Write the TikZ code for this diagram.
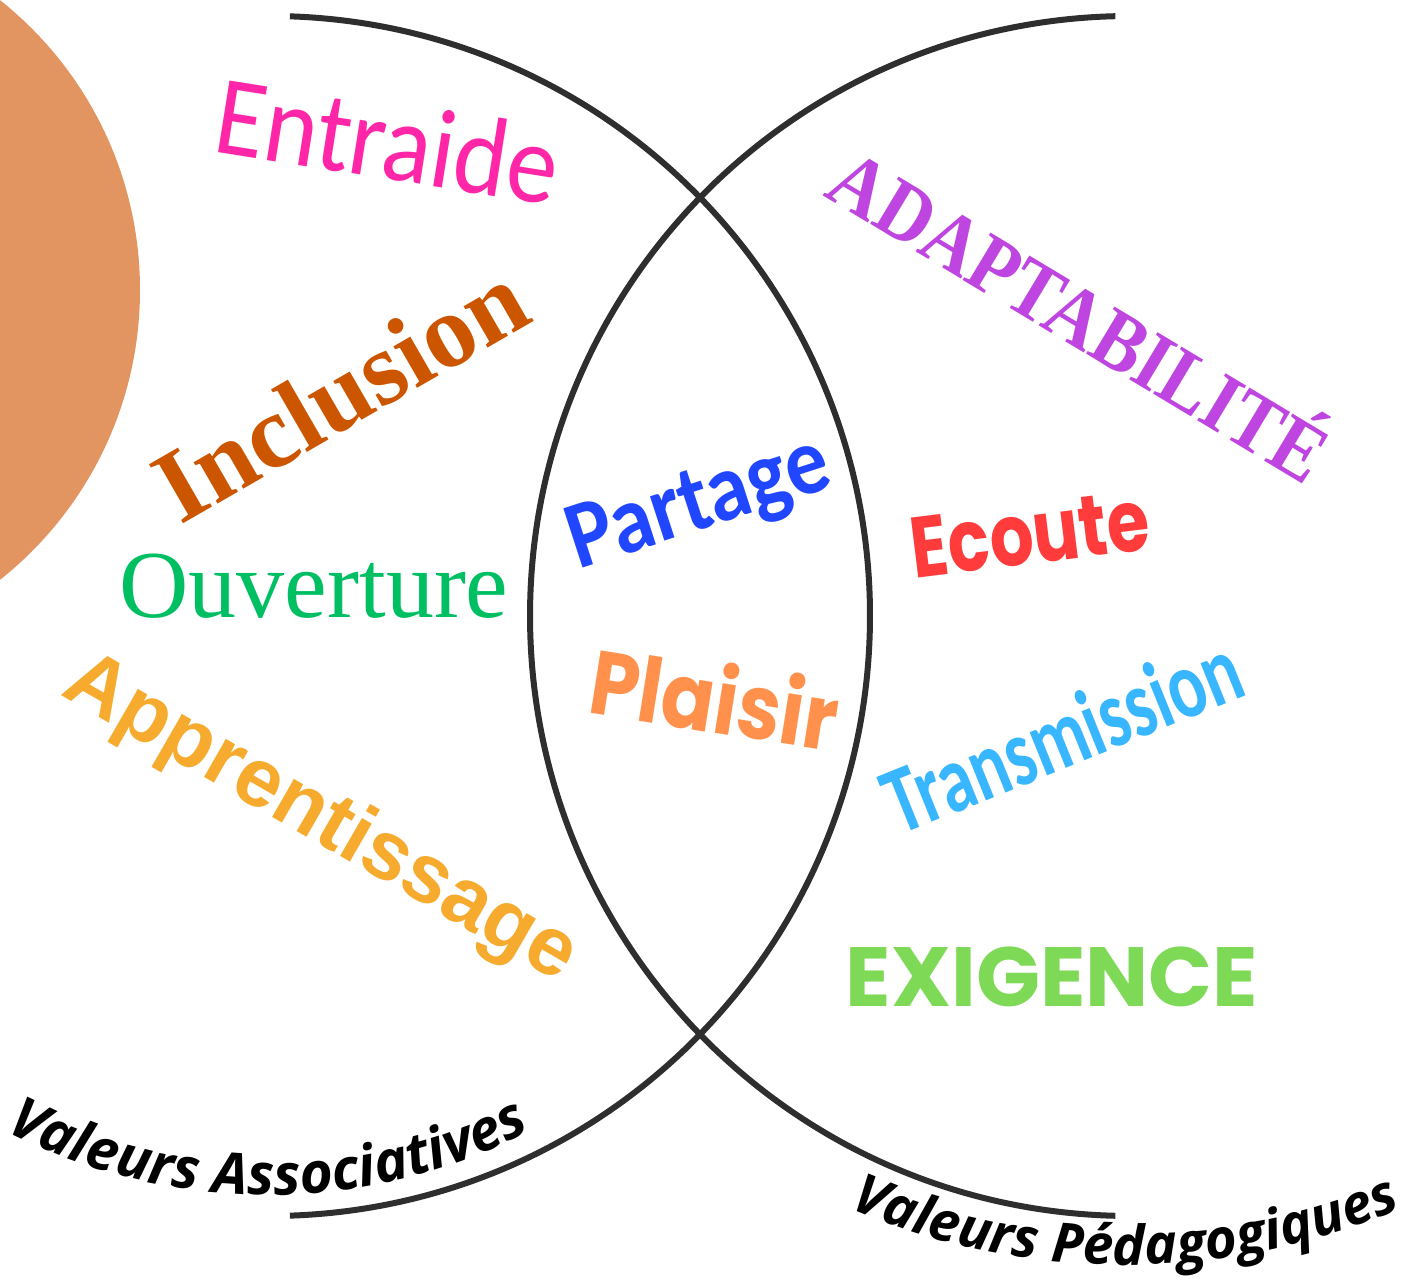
\documentclass[tikz,border=0pt]{standalone}
\usepackage{fontspec}
\usepackage{xcolor}
\usepackage{tikz}
\usetikzlibrary{decorations.text}

\newfontfamily\humfont{Carlito}[FakeStretch=0.9]
\newfontfamily\humboldfont{Carlito}[FakeStretch=0.89]
\newfontfamily\narrowfont{Carlito}[FakeStretch=0.73]
\newfontfamily\seriffont{Liberation Serif}
\newfontfamily\capsfont{Liberation Serif}[FakeStretch=0.89]
\newfontfamily\grofont{Liberation Sans}
\newfontfamily\roundfont{Poppins}
\newfontfamily\plaisirfont{Poppins}[FakeStretch=0.87]
\newfontfamily\ecoutefont{Poppins}[FakeStretch=0.8]
\newfontfamily\valfont{Open Sans}

\definecolor{arcgray}{HTML}{2E2E2E}
\definecolor{sunorange}{HTML}{E39561}
\definecolor{cpink}{HTML}{FF27A8}
\definecolor{cbrown}{HTML}{CC5500}
\definecolor{cgreen}{HTML}{00BF63}
\definecolor{cyellow}{HTML}{F6AB2F}
\definecolor{cblue}{HTML}{2046FF}
\definecolor{csalmon}{HTML}{FF914D}
\definecolor{cpurple}{HTML}{BE45E0}
\definecolor{cred}{HTML}{FF3B3B}
\definecolor{csky}{HTML}{38B6FF}
\definecolor{clime}{HTML}{7ED957}

\begin{document}
\begin{tikzpicture}[x=1pt, y=1pt,
  word/.style={inner sep=0pt, anchor=center},
  arcline/.style={draw=arcgray, line width=6pt}]

\useasboundingbox (0,0) rectangle (1424,1278);
\clip (0,0) rectangle (1424,1278);

\fill[sunorange] (-230,988) circle (370);

\foreach \cx/\sa/\ea in {270/88.1/-88.1, 1130/91.4/268.6}
{
	\draw[arcline] ([shift={(\cx,662)}]\sa:600) arc[start angle=\sa, end angle=\ea, radius=600];
}

\node[word, text=cpink, rotate=-9, font={\humfont\fontsize{113}{113}\selectfont}] (entraide) at (388,1138) {Entraide};
\node[word, text=cbrown, rotate=30, font={\seriffont\bfseries\fontsize{104}{104}\selectfont}] (inclusion) at (340,886) {Inclusion};
\node[word, anchor=base, text=cgreen, font={\seriffont\fontsize{96}{96}\selectfont}] (ouverture) at (314,660) {Ouverture};
\node[word, text=cyellow, rotate=-30, font={\grofont\bfseries\fontsize{83}{83}\selectfont}] (apprentissage) at (320,458) {Apprentissage};

\node[word, text=cblue, rotate=18, font={\humboldfont\bfseries\fontsize{96}{96}\selectfont}] (partage) at (700,772) {Partage};
\node[word, text=csalmon, rotate=-9, font={\plaisirfont\bfseries\fontsize{90}{90}\selectfont}] (plaisir) at (715,581) {Plaisir};

\node[word, text=cpurple, rotate=-31, font={\capsfont\bfseries\fontsize{84}{84}\selectfont}] (adaptabilite) at (1083,968) {ADAPTABILITÉ};
\node[word, text=cred, rotate=7, font={\ecoutefont\bfseries\fontsize{86}{86}\selectfont}] (ecoute) at (1030,744) {Ecoute};
\node[word, text=csky, rotate=22, font={\narrowfont\bfseries\fontsize{96}{96}\selectfont}] (transmission) at (1062,544) {Transmission};
\node[word, anchor=base, text=clime, font={\roundfont\bfseries\fontsize{84}{84}\selectfont}] (exigence) at (1052,272) {EXIGENCE};

\path[decorate, decoration={text along path, text align=center,
  text={|\valfont\bfseries\itshape\fontsize{57}{57}\selectfont|Valeurs Associatives}}]
  ([shift={(268,655)}]-124:572) arc[start angle=-124, end angle=-56, radius=572];
\path[decorate, decoration={text along path, text align=center,
  text={|\valfont\bfseries\itshape\fontsize{55}{55}\selectfont|Valeurs Pédagogiques}}]
  ([shift={(1125,713)}]-120:700) arc[start angle=-120, end angle=-60, radius=700];

\end{tikzpicture}
\end{document}
